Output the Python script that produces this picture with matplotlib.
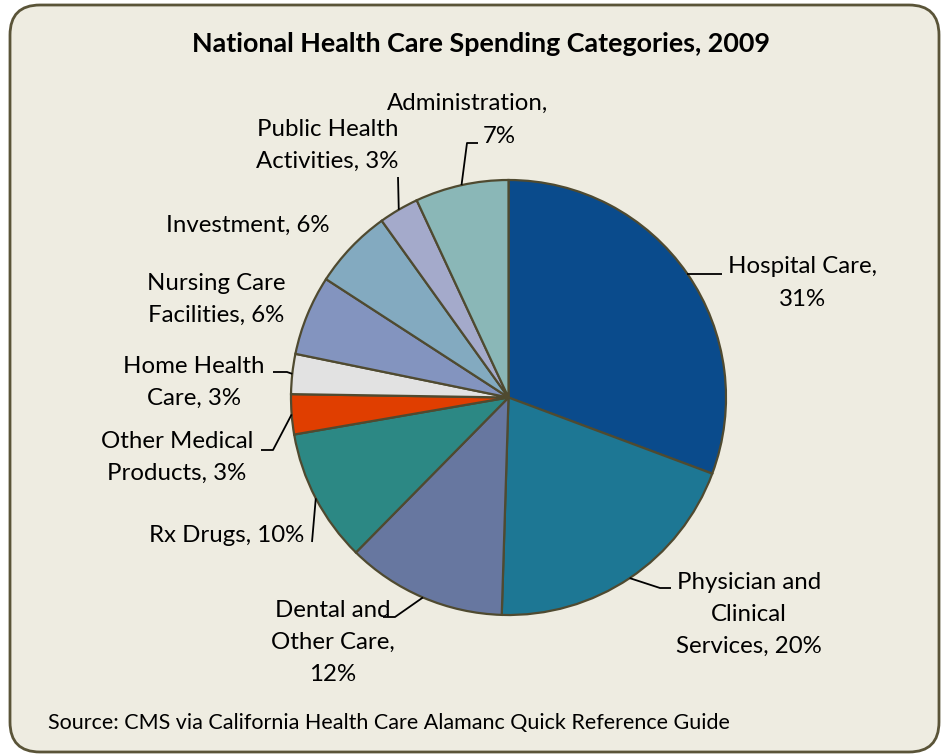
import math
import matplotlib
matplotlib.use("Agg")
import matplotlib.pyplot as plt
from matplotlib.patches import FancyBboxPatch

# ---------------- data ----------------
categories = ["Hospital Care", "Physician and Clinical Services", "Dental and Other Care",
              "Rx Drugs", "Other Medical Products", "Home Health Care",
              "Nursing Care Facilities", "Investment", "Public Health Activities",
              "Administration"]
values = [31, 20, 12, 10, 3, 3, 6, 6, 3, 7]
label_texts = ["Hospital Care,\n31%",
               "Physician and\nClinical\nServices, 20%",
               "Dental and\nOther Care,\n12%",
               "Rx Drugs, 10%",
               "Other Medical\nProducts, 3%",
               "Home Health\nCare, 3%",
               "Nursing Care\nFacilities, 6%",
               "Investment, 6%",
               "Public Health\nActivities, 3%",
               "Administration,\n7%"]
title = "National Health Care Spending Categories, 2009"
source = "Source: CMS via California Health Care Alamanc Quick Reference Guide"

# ---------------- style / layout ----------------
colors = ["#0A4B8C", "#1D7794", "#6777A0", "#2C8884", "#E03E00", "#E2E2E2",
          "#8394BF", "#83AAC0", "#A4AACB", "#8AB7B7"]
W, H = 945, 755
BG = "#EEECE1"
EDGE = "#4F4A30"
cx, cy, R = 508.5, 397.5, 217.5

# label line positions: (center x, first baseline y, line step) in pixel coords (y from top)
label_pos = [(802, 273, 33), (749, 589, 32), (333, 617, 32), (227, 542, 32),
             (177, 448, 32), (194, 373, 32), (216.5, 290, 32), (247.5, 232, 32),
             (327.5, 136, 32), (468, 110, 33)]
# per-line x overrides (Administration's "7%" sits right of centre)
line_x_override = {(9, 1): 499}
# leader elbow points (pixel coords) after the wedge edge point; None = no leader
leaders = [[(722, None)], [(660, 588), (671, 588)], [(395, 617), (383, 617)],
           [(312, 542)], [(273, 450), (261, 450)], [(287, 372), (273, 372)],
           None, None, [(398, 177)], [(467, 143), (478, 143)]]

FONT = ["Lato", "DejaVu Sans"]
LABEL_FS = 17.3
TITLE_FS = 19.4
SOURCE_FS = 15.5

fig = plt.figure(figsize=(W / 100, H / 100), dpi=100)
fig.patch.set_facecolor("white")
ax = fig.add_axes([0, 0, 1, 1])

def Y(y):
    return H - y

frame = FancyBboxPatch((10, Y(752)), 929, 747, boxstyle="round,pad=0,rounding_size=30",
                       facecolor=BG, edgecolor="#5A5438", linewidth=2.0, zorder=0)
ax.add_patch(frame)

wedges, _ = ax.pie(values, colors=colors, startangle=90, counterclock=False,
                   center=(cx, Y(cy)), radius=R,
                   wedgeprops=dict(edgecolor=EDGE, linewidth=1.6), frame=True)
for w in wedges:
    w.set_zorder(2)

ax.set_xlim(0, W)
ax.set_ylim(0, H)
ax.set_aspect("equal")
ax.axis("off")

# leader lines
for i, w in enumerate(wedges):
    if leaders[i] is None:
        continue
    mid = math.radians((w.theta1 + w.theta2) / 2)
    ex, ey = cx + R * math.cos(mid), Y(cy) + R * math.sin(mid)
    xs, ys = [ex], [ey]
    for (px, py) in leaders[i]:
        xs.append(px)
        ys.append(ey if py is None else Y(py))
    ax.plot(xs, ys, color="black", linewidth=1.3, zorder=3, solid_capstyle="butt")

# labels
for i, txt in enumerate(label_texts):
    x0, b0, step = label_pos[i]
    for j, line in enumerate(txt.split("\n")):
        lx = line_x_override.get((i, j), x0)
        ax.text(lx, Y(b0 + j * step), line, ha="center", va="baseline",
                fontsize=LABEL_FS, family=FONT, color="black", zorder=4)

ax.text(481, Y(52), title, ha="center", va="baseline", fontsize=TITLE_FS,
        fontweight="bold", family=FONT, color="black")
ax.text(48, Y(729), source, ha="left", va="baseline", fontsize=SOURCE_FS,
        family=FONT, color="black")

fig.savefig("out.png", dpi=100, facecolor="white")
